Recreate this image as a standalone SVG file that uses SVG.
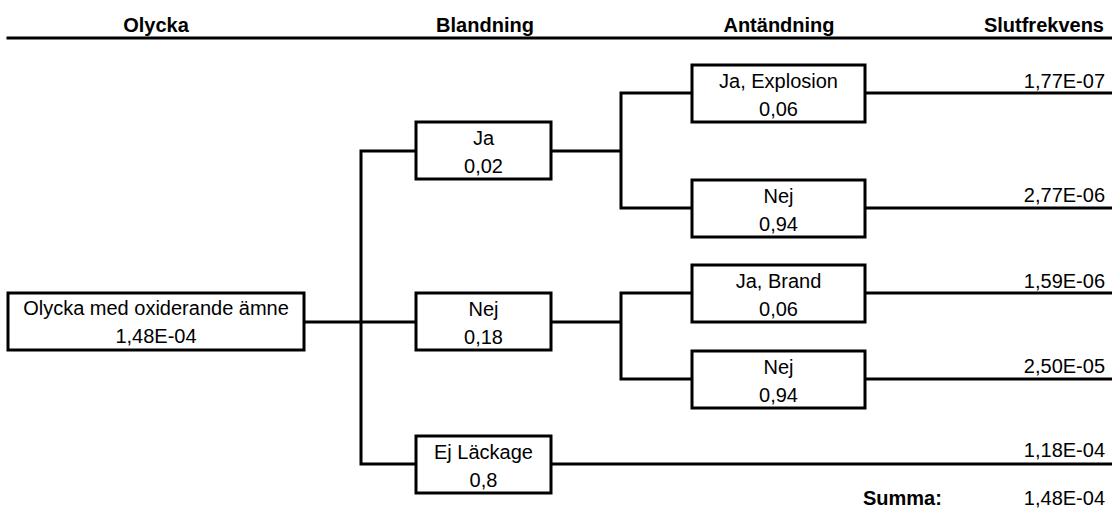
<svg xmlns="http://www.w3.org/2000/svg" width="1112" height="518" viewBox="0 0 1112 518">
  <style>
    text { font-family: "Liberation Sans", Arial, sans-serif; font-size: 20px; fill: #000; }
    .head { font-weight: bold; }
    .mid { text-anchor: middle; }
    .end { text-anchor: end; }
    .box { fill: #fff; stroke: #000; stroke-width: 3; }
    .wire { fill: none; stroke: #000; stroke-width: 3; stroke-linecap: square; }
  </style>
  <rect width="1112" height="518" fill="#fff"/>

  <!-- column headings -->
  <g id="headings">
    <text class="head mid" x="156" y="32">Olycka</text>
    <text class="head mid" x="485" y="32">Blandning</text>
    <text class="head mid" x="779" y="32">Antändning</text>
    <text class="head end" x="1104" y="32">Slutfrekvens</text>
    <line class="wire" x1="8" y1="38" x2="1112" y2="38" stroke-linecap="butt"/>
  </g>

  <!-- connectors -->
  <g id="connectors">
    <path class="wire" d="M304 322 H361 M361 151 V464 M361 151 H416 M361 322 H416 M361 464 H416"/>
    <path class="wire" d="M551 151 H621 M621 93 V208 M621 93 H692 M621 208 H692"/>
    <path class="wire" d="M551 322 H621 M621 293 V379 M621 293 H692 M621 379 H692"/>
    <path class="wire" d="M865 93 H1112 M865 208 H1112 M865 293 H1112 M865 379 H1112 M551 464 H1112" stroke-linecap="butt"/>
  </g>

  <!-- root event -->
  <g id="node-olycka">
    <rect class="box" x="8" y="293" width="296" height="57"/>
    <text class="mid" x="156" y="315">Olycka med oxiderande ämne</text>
    <text class="mid" x="156" y="343">1,48E-04</text>
  </g>

  <!-- mixing branch -->
  <g id="node-blandning-ja">
    <rect class="box" x="416" y="122" width="135" height="57"/>
    <text class="mid" x="483.5" y="145">Ja</text>
    <text class="mid" x="483.5" y="173">0,02</text>
  </g>
  <g id="node-blandning-nej">
    <rect class="box" x="416" y="293" width="135" height="57"/>
    <text class="mid" x="483.5" y="316">Nej</text>
    <text class="mid" x="483.5" y="344">0,18</text>
  </g>
  <g id="node-ej-lackage">
    <rect class="box" x="416" y="436" width="135" height="57"/>
    <text class="mid" x="483.5" y="459">Ej Läckage</text>
    <text class="mid" x="483.5" y="487">0,8</text>
  </g>

  <!-- ignition branch -->
  <g id="node-explosion">
    <rect class="box" x="692" y="65" width="173" height="57"/>
    <text class="mid" x="778.5" y="88">Ja, Explosion</text>
    <text class="mid" x="778.5" y="116">0,06</text>
  </g>
  <g id="node-explosion-nej">
    <rect class="box" x="692" y="180" width="173" height="57"/>
    <text class="mid" x="778.5" y="203">Nej</text>
    <text class="mid" x="778.5" y="231">0,94</text>
  </g>
  <g id="node-brand">
    <rect class="box" x="692" y="265" width="173" height="57"/>
    <text class="mid" x="778.5" y="288">Ja, Brand</text>
    <text class="mid" x="778.5" y="316">0,06</text>
  </g>
  <g id="node-brand-nej">
    <rect class="box" x="692" y="351" width="173" height="57"/>
    <text class="mid" x="778.5" y="374">Nej</text>
    <text class="mid" x="778.5" y="402">0,94</text>
  </g>

  <!-- end frequencies -->
  <g id="frequencies">
    <text class="end" x="1105" y="88">1,77E-07</text>
    <text class="end" x="1105" y="202">2,77E-06</text>
    <text class="end" x="1105" y="288">1,59E-06</text>
    <text class="end" x="1105" y="373">2,50E-05</text>
    <text class="end" x="1105" y="457">1,18E-04</text>
    <text class="head" x="863" y="505">Summa:</text>
    <text class="end" x="1105" y="505">1,48E-04</text>
  </g>
</svg>
